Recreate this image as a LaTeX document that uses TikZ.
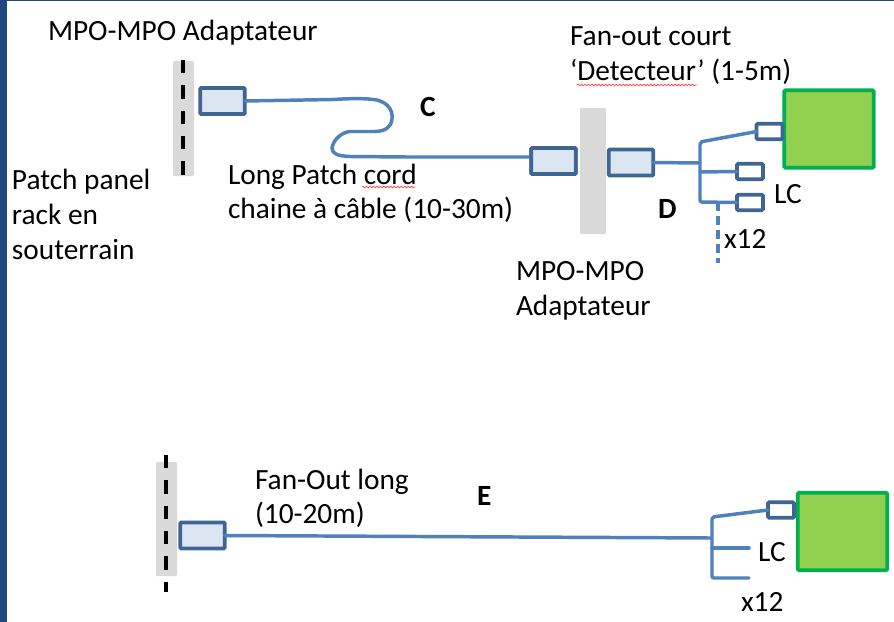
\documentclass[tikz,border=0pt]{standalone}
\usepackage{fontspec}
\setmainfont{Carlito}
\usetikzlibrary{decorations.pathmorphing}
\definecolor{navy}{HTML}{1F497D}
\definecolor{boxline}{HTML}{3F6595}
\definecolor{boxfill}{HTML}{DCE6F2}
\definecolor{cablecol}{HTML}{4F81BD}
\definecolor{panelgray}{HTML}{D9D9D9}
\definecolor{detfill}{HTML}{92D050}
\definecolor{detline}{HTML}{00B050}
\tikzset{
  x=0.75pt,y=-0.75pt,
  panel/.style={fill=panelgray,draw=none,rounded corners=0.8pt},
  panelcut/.style={draw=black,line width=2.8pt,dash pattern=on 10pt off 9pt},
  mpo/.style={draw=boxline,fill=boxfill,line width=2.8pt,rounded corners=0.8pt,minimum width=33.5pt,minimum height=19.5pt,inner sep=0pt,outer sep=0pt},
  lc/.style={draw=boxline,fill=white,line width=2.8pt,rounded corners=0.8pt,minimum width=19.5pt,minimum height=11.5pt,inner sep=0pt,outer sep=0pt},
  detector/.style={draw=detline,fill=detfill,line width=2.8pt,rounded corners=0.8pt,inner sep=0pt,outer sep=0pt,minimum width=67pt,minimum height=58pt},
  cable/.style={draw=cablecol,line width=2.6pt,line cap=round,line join=round},
  cabledash/.style={draw=cablecol,line width=2.6pt,dash pattern=on 7pt off 3.5pt},
  lab/.style={anchor=base west,inner sep=0pt,outer sep=0pt,font=\fontsize{22pt}{24pt}\selectfont,text=black},
  labb/.style={lab,font=\fontsize{22pt}{24pt}\selectfont\bfseries},
  squiggle/.style={draw=red!70!white,line width=0.6pt,decorate,decoration={snake,amplitude=0.6pt,segment length=2.6pt}}
}
\begin{document}
\begin{tikzpicture}
\useasboundingbox (0,0) rectangle (894,622);
\fill[white] (0,0) rectangle (894,622);
\fill[navy] (0,0) rectangle (7,622);
\fill[navy] (0,0) rectangle (894,1);
% panels
\fill[panel] (173,61) rectangle (194,176);
\coordinate (cutAa) at (183,60);
\coordinate (cutAb) at (183,176);
\draw[panelcut] (cutAa) -- (cutAb);
\fill[panel] (580,108) rectangle (606,234);
\fill[panel] (156,462) rectangle (177,576);
\coordinate (cutBa) at (166,455);
\coordinate (cutBb) at (166,592);
\draw[panelcut] (cutBa) -- (cutBb);
% boxes
\node[mpo] (a1) at (222.5,101) {};
\node[mpo] (a2) at (553.5,161) {};
\node[mpo] (a3) at (631,162.5) {};
\node[detector] (det1) at (829,129) {};
\node[lc] (lc1) at (769.5,131.5) {};
\node[lc] (lc2) at (750,171.5) {};
\node[lc] (lc3) at (750,202.5) {};
\node[mpo] (b1) at (202.5,535.5) {};
\node[detector] (det2) at (842.5,531.5) {};
\node[lc] (lc4) at (781,510) {};
% cables
\coordinate (jt) at (700,142);
\coordinate (jm) at (700,163);
\coordinate (js) at (700,172);
\coordinate (jb) at (700,202);
\coordinate (jd) at (718,202);
\coordinate (de) at (718,263);
\coordinate (aend) at (530,157);
\draw[cable] (a1.east) -- (333,99.5) .. controls (350,98.5) and (365,98) .. (377,100)
  .. controls (388,103) and (393,110) .. (392,119)
  .. controls (391,128) and (385,131) .. (375,131.5) -- (350,131.5)
  .. controls (342,132) and (333,140) .. (332,148)
  .. controls (332,154) and (338,156) .. (350,156.5) -- (408,157) -- (aend);
\draw[cable] (a3.east) -- (jm);
\draw[cable,rounded corners=1.5pt] (lc1.west) -- (jt) -- (jb) -- (lc3.west);
\draw[cable] (js) -- (lc2.west);
\draw[cabledash] (jd) -- (de);
\coordinate (kt) at (712,517);
\coordinate (km) at (712,538);
\coordinate (ks) at (712,548);
\coordinate (kb) at (712,578);
\coordinate (ke) at (749,548);
\coordinate (kf) at (749,578);
\draw[cable] (b1.east) -- (km);
\draw[cable,rounded corners=1.5pt] (lc4.west) -- (kt) -- (kb) -- (kf);
\draw[cable] (ks) -- (ke);
% redraw the box edge over the cable end
\node[mpo] at (a2) {};
% labels
\node[lab] (t1) at (48,40) {MPO-MPO Adaptateur};
\node[lab] (t2) at (12,189) {Patch panel};
\node[lab] (t3) at (12,224) {rack en};
\node[lab] (t4) at (12,259) {souterrain};
\node[lab] (t5) at (228,184) {Long Patch cord};
\node[lab] (t6) at (228,218) {chaine à câble (10-30m)};
\node[labb] (t7) at (420,116) {C};
\node[lab] (t8) at (570,45) {Fan-out court};
\node[lab] (t9) at (570,80) {‘Detecteur’ (1-5m)};
\node[labb] (t10) at (658,218) {D};
\node[lab] (t11) at (774,203) {LC};
\node[lab] (t12) at (724,248) {x12};
\node[lab] (t13) at (516,280) {MPO-MPO};
\node[lab] (t14) at (516,315) {Adaptateur};
\node[lab] (t15) at (255,489) {Fan-Out long};
\node[lab] (t16) at (255,523) {(10-20m)};
\node[labb] (t17) at (477,505) {E};
\node[lab] (t18) at (758,561) {LC};
\node[lab] (t19) at (741,611) {x12};
% spell-check marks
\coordinate (sa) at (362,187);
\coordinate (sb) at (415,187);
\coordinate (sc) at (577,85);
\coordinate (sd) at (697,85);
\draw[squiggle] (sa) -- (sb);
\draw[squiggle] (sc) -- (sd);
\end{tikzpicture}
\end{document}
